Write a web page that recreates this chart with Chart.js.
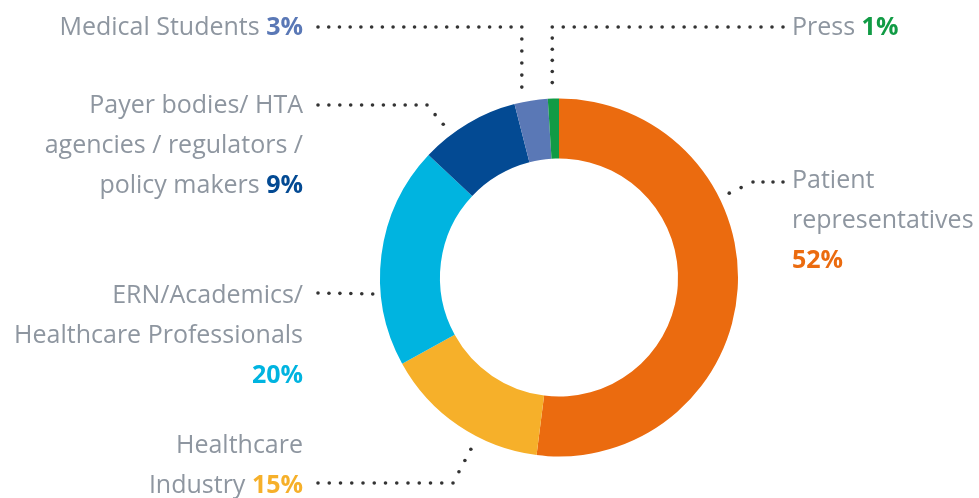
<!DOCTYPE html>
<html>
<head>
<meta charset="utf-8">
<script src="https://cdn.jsdelivr.net/npm/chart.js@4"></script>
<style>
  html, body { margin: 0; padding: 0; background: #fff; }
  #wrap { width: 979px; height: 498px; }
</style>
</head>
<body>
<div id="wrap"><canvas id="myChart" width="979" height="498"></canvas></div>
<script>
// data (shares of participants, %)
var categories = ['Patient representatives', 'Healthcare Industry', 'ERN/Academics/ Healthcare Professionals',
  'Payer bodies/ HTA agencies / regulators / policy makers', 'Medical Students', 'Press'];
var shares = [52, 15, 20, 9, 3, 1];
var colores = ['#eb6b0f', '#f6b02a', '#00b4e0', '#034a93', '#5a78b6', '#119b45'];

// label text lines (percent gets appended in its own colour)
var textLines = [
  ['Patient', 'representatives', ''],
  ['Healthcare', 'Industry '],
  ['ERN/Academics/', 'Healthcare Professionals', ''],
  ['Payer bodies/ HTA', 'agencies / regulators /', 'policy makers '],
  ['Medical Students '],
  ['Press ']
];

// label layout: anchor x, first baseline, alignment, leader path (start, elbow), where on the arc the leader points
var layout = [
  { x: 792, y: 188, align: 'left',  start: [783, 182], elbow: [753, 182], frac: 0.34, gap: 11 },
  { x: 303, y: 453, align: 'right', start: [318, 483], elbow: [453, 483], frac: 0.37, gap: 14 },
  { x: 303, y: 303, align: 'right', start: [318, 293], elbow: null,       frac: 0.33, gap: 8 },
  { x: 303, y: 113, align: 'right', start: [318, 105], elbow: [427, 105], frac: 0.30, gap: 13 },
  { x: 303, y: 35,  align: 'right', start: [318, 27],  elbow: 'v',        frac: 0.31, gap: 15 },
  { x: 792, y: 35,  align: 'left',  start: [783, 27],  elbow: 'v',        frac: 0.45, gap: 16 }
];

var lineGap = 40;
var fontSize = 25;
var fontName = '"Open Sans", sans-serif';
var grisTexto = '#8e96a0';

function dotsAlong(ctx, pts) {
  var step = 11;
  for (var i = 0; i < pts.length - 1; i++) {
    var a = pts[i], b = pts[i + 1];
    var len = Math.hypot(b[0] - a[0], b[1] - a[1]);
    var n = Math.max(1, Math.round(len / step));
    for (var k = (i === 0 ? 0 : 1); k <= n; k++) {
      var t = k / n;
      ctx.beginPath();
      ctx.arc(a[0] + (b[0] - a[0]) * t, a[1] + (b[1] - a[1]) * t, 1.8, 0, Math.PI * 2);
      ctx.fill();
    }
  }
}

var etiquetas = {
  id: 'etiquetas',
  afterDraw: function (chart) {
    var ctx = chart.ctx;
    var arcs = chart.getDatasetMeta(0).data;
    ctx.save();
    for (var i = 0; i < arcs.length; i++) {
      var p = arcs[i].getProps(['x', 'y', 'startAngle', 'endAngle', 'outerRadius'], true);
      var L = layout[i];
      var ang = p.startAngle + (p.endAngle - p.startAngle) * L.frac;
      var r = p.outerRadius + L.gap;
      var end = [p.x + Math.cos(ang) * r, p.y + Math.sin(ang) * r];
      var pts = [L.start];
      if (L.elbow === 'v') pts.push([end[0], L.start[1]]);
      else if (L.elbow) pts.push(L.elbow);
      pts.push(end);
      ctx.fillStyle = '#333333';
      dotsAlong(ctx, pts);

      // text
      var lines = textLines[i];
      var pct = shares[i] + '%';
      var normal = fontSize + 'px ' + fontName;
      var bold = 'bold ' + fontSize + 'px ' + fontName;
      ctx.textBaseline = 'alphabetic';
      ctx.textAlign = 'left';
      for (var j = 0; j < lines.length; j++) {
        var y = L.y + j * lineGap;
        var last = j === lines.length - 1;
        ctx.font = normal;
        var w1 = ctx.measureText(lines[j]).width;
        ctx.font = bold;
        var w2 = last ? ctx.measureText(pct).width : 0;
        var x0 = L.align === 'right' ? L.x - w1 - w2 : L.x;
        ctx.font = normal;
        ctx.fillStyle = grisTexto;
        ctx.fillText(lines[j], x0, y);
        if (last) {
          ctx.font = bold;
          ctx.fillStyle = colores[i];
          ctx.fillText(pct, x0 + w1, y);
        }
      }
    }
    ctx.restore();
  }
};

var ctx = document.getElementById('myChart');
new Chart(ctx, {
  type: 'doughnut',
  data: {
    labels: categories,
    datasets: [{
      data: shares,
      backgroundColor: colores,
      borderWidth: 0
    }]
  },
  options: {
    responsive: false,
    animation: false,
    cutout: '66.5%',
    layout: { padding: { left: 380, right: 241, top: 98.5, bottom: 41.5 } },
    plugins: {
      legend: { display: false },
      tooltip: { enabled: false }
    }
  },
  plugins: [etiquetas]
});
</script>
</body>
</html>
